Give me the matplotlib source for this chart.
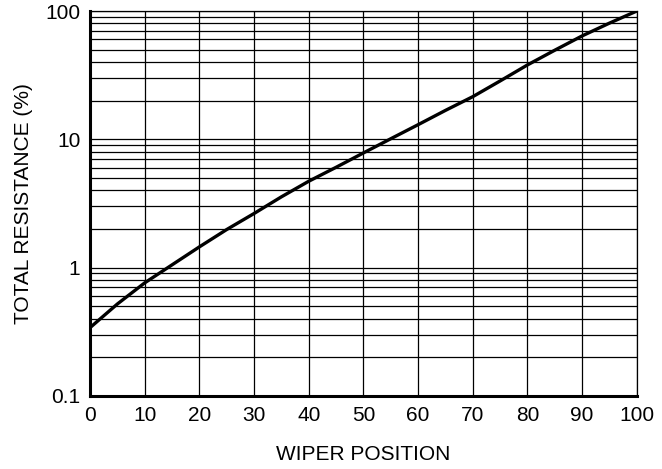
import numpy as np
import matplotlib.pyplot as plt
from matplotlib.ticker import FixedLocator, FixedFormatter, LogLocator, NullFormatter

# taper curve
wiper = [0, 5, 10, 15, 20, 25, 30, 35, 40, 45, 50, 55, 60, 65, 70, 75, 80, 85, 90, 95, 100]
resistance = [0.34, 0.52, 0.76, 1.05, 1.45, 1.98, 2.64, 3.56, 4.71, 6.05, 7.83, 10.1, 13.0, 16.8, 21.5, 28.5, 38.0, 49.5, 64.0, 80.5, 100.0]

xticks = [0, 10, 20, 30, 40, 50, 60, 70, 80, 90, 100]
yticks = [0.1, 1, 10, 100]
ylabels = ["0.1", "1", "10", "100"]

plt.rcParams['font.family'] = ['Liberation Sans', 'DejaVu Sans']

fig = plt.figure(figsize=(6.62, 4.69), dpi=100)
ax = fig.add_axes([0.136, 0.156, 0.826, 0.8205])

ax.set_yscale('log')
ax.set_xlim(0, 100)
ax.set_ylim(0.1, 100)

ax.xaxis.set_major_locator(FixedLocator(xticks))
ax.yaxis.set_major_locator(FixedLocator(yticks))
ax.yaxis.set_major_formatter(FixedFormatter(ylabels))
ax.yaxis.set_minor_locator(LogLocator(base=10, subs=np.arange(2, 10)))
ax.yaxis.set_minor_formatter(NullFormatter())

ax.grid(True, which='major', color='black', lw=0.9)
ax.grid(True, which='minor', axis='y', color='black', lw=0.9)
ax.tick_params(which='both', length=0, labelsize=15)
ax.tick_params(axis='x', pad=7)
ax.tick_params(axis='y', pad=7)

for s in ['top', 'right']:
    ax.spines[s].set_linewidth(0.9)
for s in ['left', 'bottom']:
    ax.spines[s].set_linewidth(2.2)

ax.plot(wiper, resistance, color='black', lw=2.4, solid_capstyle='butt')

ax.set_xlabel("WIPER POSITION", fontsize=15, labelpad=15)
ax.set_ylabel("TOTAL RESISTANCE (%)", fontsize=15, labelpad=9)

fig.savefig("out.png", dpi=100)
